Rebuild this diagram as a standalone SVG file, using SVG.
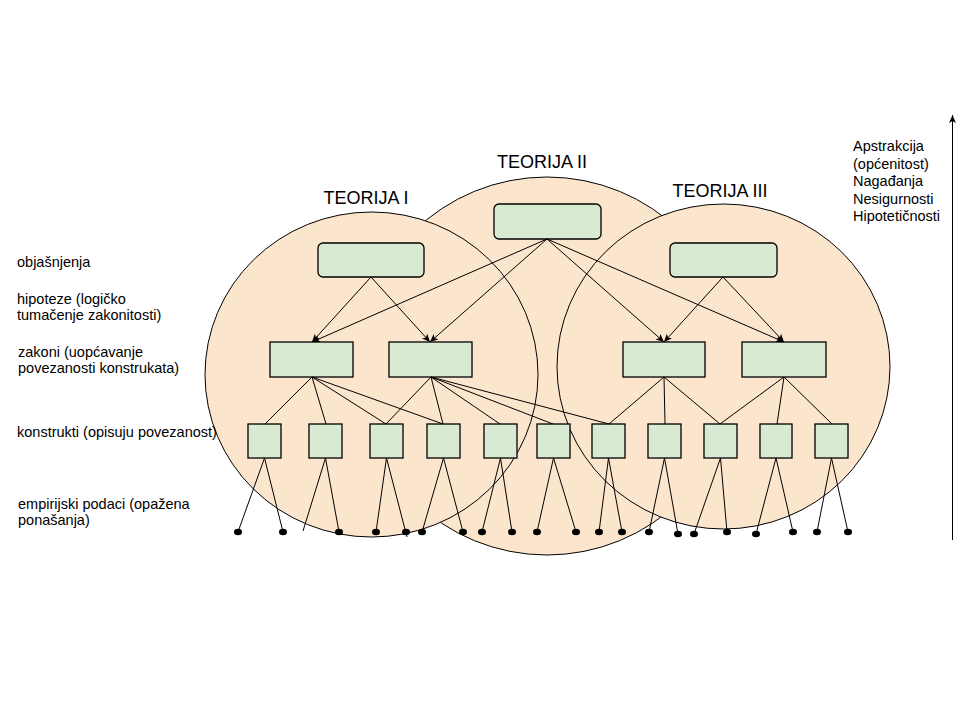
<svg xmlns="http://www.w3.org/2000/svg" width="960" height="720" viewBox="0 0 960 720">
<style>
.th{fill:#FCE5CD;stroke:#000;stroke-width:1}
.bx{fill:#D9EAD3;stroke:#000;stroke-width:1.3}
.ln{stroke:#000;stroke-width:1;fill:none}
.ar{stroke:#000;stroke-width:1;fill:none;marker-end:url(#ah)}
.dot{fill:#000}
text{font-family:"Liberation Sans",Arial,sans-serif;fill:#000}
.lbl{font-size:14.5px}
.ttl{font-size:18px;text-anchor:middle}
</style>
<defs>
<marker id="ah" markerUnits="userSpaceOnUse" markerWidth="10" markerHeight="8" refX="8" refY="4" orient="auto">
<path d="M0,0.5 L8,4 L0,7.5 L2,4 z" fill="#000"/>
</marker>
</defs>
<rect width="960" height="720" fill="#fff"/>
<g id="teorija-2"><ellipse class="th" cx="547" cy="366" rx="190" ry="189"/><text class="ttl" x="542" y="168">TEORIJA II</text></g>
<g id="teorija-1"><ellipse class="th" cx="371.5" cy="374.5" rx="166.5" ry="162.5"/><text class="ttl" x="366" y="204">TEORIJA I</text></g>
<g id="teorija-3"><ellipse class="th" cx="723.5" cy="366.5" rx="166.5" ry="162.5"/><text class="ttl" x="720" y="197">TEORIJA III</text></g>
<g id="labels-left" class="lbl">
<text class="lbl" x="17" y="267">objašnjenja</text>
<text class="lbl" x="17" y="304">hipoteze (logičko</text>
<text class="lbl" x="17" y="320">tumačenje zakonitosti)</text>
<text class="lbl" x="18" y="357">zakoni (uopćavanje</text>
<text class="lbl" x="18" y="373">povezanosti konstrukata)</text>
<text class="lbl" x="17" y="437">konstrukti (opisuju povezanost)</text>
<text class="lbl" x="18" y="509">empirijski podaci (opažena</text>
<text class="lbl" x="18" y="525">ponašanja)</text>
</g>
<g id="labels-right">
<text class="lbl" x="853" y="151">Apstrakcija</text>
<text class="lbl" x="853" y="168.5">(općenitost)</text>
<text class="lbl" x="853" y="186">Nagađanja</text>
<text class="lbl" x="853" y="203.5">Nesigurnosti</text>
<text class="lbl" x="853" y="221">Hipotetičnosti</text>
</g>
<g id="nodes">
<rect id="h2" class="bx" x="494" y="204" width="107" height="35" rx="5"/>
<rect id="h1" class="bx" x="318" y="243" width="106" height="34" rx="5"/>
<rect id="h3" class="bx" x="670" y="243" width="107" height="34" rx="5"/>
<rect id="zA" class="bx" x="270" y="342" width="83" height="35"/>
<rect id="zB" class="bx" x="389" y="342" width="83" height="35"/>
<rect id="zC" class="bx" x="623" y="342" width="82" height="35"/>
<rect id="zD" class="bx" x="742" y="342" width="84" height="35"/>
<rect id="k1" class="bx" x="248" y="424" width="33" height="34"/>
<rect id="k2" class="bx" x="309" y="424" width="33" height="34"/>
<rect id="k3" class="bx" x="370" y="424" width="33" height="34"/>
<rect id="k4" class="bx" x="427" y="424" width="33" height="34"/>
<rect id="k5" class="bx" x="484" y="424" width="33" height="34"/>
<rect id="k6" class="bx" x="537" y="424" width="33" height="34"/>
<rect id="k7" class="bx" x="592" y="424" width="33" height="34"/>
<rect id="k8" class="bx" x="648" y="424" width="33" height="34"/>
<rect id="k9" class="bx" x="704" y="424" width="33" height="34"/>
<rect id="k10" class="bx" x="760" y="424" width="32" height="34"/>
<rect id="k11" class="bx" x="815" y="424" width="33" height="34"/>
</g>
<g id="connectors">
<line class="ar" x1="371" y1="277" x2="312" y2="342"/>
<line class="ar" x1="371" y1="277" x2="430" y2="342"/>
<line class="ar" x1="547" y1="239" x2="312" y2="342"/>
<line class="ar" x1="547" y1="239" x2="430" y2="342"/>
<line class="ar" x1="547" y1="239" x2="664" y2="342"/>
<line class="ar" x1="547" y1="239" x2="784" y2="342"/>
<line class="ar" x1="723" y1="277" x2="664" y2="342"/>
<line class="ar" x1="723" y1="277" x2="784" y2="342"/>
<line class="ln" x1="312" y1="377" x2="265" y2="424"/>
<line class="ln" x1="312" y1="377" x2="326" y2="424"/>
<line class="ln" x1="312" y1="377" x2="386" y2="424"/>
<line class="ln" x1="312" y1="377" x2="443" y2="424"/>
<line class="ln" x1="431" y1="377" x2="386" y2="424"/>
<line class="ln" x1="431" y1="377" x2="443" y2="424"/>
<line class="ln" x1="431" y1="377" x2="500" y2="424"/>
<line class="ln" x1="431" y1="377" x2="553" y2="424"/>
<line class="ln" x1="431" y1="377" x2="609" y2="424"/>
<line class="ln" x1="664" y1="377" x2="609" y2="424"/>
<line class="ln" x1="664" y1="377" x2="665" y2="424"/>
<line class="ln" x1="664" y1="377" x2="720" y2="424"/>
<line class="ln" x1="784" y1="377" x2="720" y2="424"/>
<line class="ln" x1="784" y1="377" x2="777" y2="424"/>
<line class="ln" x1="784" y1="377" x2="832" y2="424"/>
<line class="ln" x1="264.5" y1="458" x2="238" y2="532"/>
<line class="ln" x1="264.5" y1="458" x2="283" y2="532"/>
<line class="ln" x1="325.5" y1="458" x2="303" y2="531"/>
<line class="ln" x1="325.5" y1="458" x2="339" y2="532"/>
<line class="ln" x1="386.5" y1="458" x2="376" y2="532"/>
<line class="ln" x1="386.5" y1="458" x2="407" y2="537"/>
<line class="ln" x1="443.5" y1="458" x2="422" y2="532"/>
<line class="ln" x1="443.5" y1="458" x2="463" y2="532"/>
<line class="ln" x1="500.5" y1="458" x2="482" y2="532"/>
<line class="ln" x1="500.5" y1="458" x2="512" y2="532"/>
<line class="ln" x1="553.5" y1="458" x2="537" y2="532"/>
<line class="ln" x1="553.5" y1="458" x2="576" y2="532"/>
<line class="ln" x1="608.5" y1="458" x2="599" y2="532"/>
<line class="ln" x1="608.5" y1="458" x2="622" y2="532"/>
<line class="ln" x1="664.5" y1="458" x2="649" y2="532"/>
<line class="ln" x1="664.5" y1="458" x2="678" y2="534"/>
<line class="ln" x1="720.5" y1="458" x2="694" y2="534"/>
<line class="ln" x1="720.5" y1="458" x2="727" y2="532"/>
<line class="ln" x1="776" y1="458" x2="756" y2="534"/>
<line class="ln" x1="776" y1="458" x2="793" y2="532"/>
<line class="ln" x1="831.5" y1="458" x2="817" y2="532"/>
<line class="ln" x1="831.5" y1="458" x2="848" y2="532"/>
<line class="ar" x1="952.5" y1="540" x2="952.5" y2="115"/>
</g>
<g id="data-points">
<ellipse class="dot" cx="238" cy="532" rx="4" ry="3.3"/>
<ellipse class="dot" cx="283" cy="532" rx="4" ry="3.3"/>
<ellipse class="dot" cx="339" cy="532" rx="4" ry="3.3"/>
<ellipse class="dot" cx="376" cy="532" rx="4" ry="3.3"/>
<ellipse class="dot" cx="406" cy="532" rx="4" ry="3.3"/>
<ellipse class="dot" cx="422" cy="532" rx="4" ry="3.3"/>
<ellipse class="dot" cx="463" cy="532" rx="4" ry="3.3"/>
<ellipse class="dot" cx="482" cy="532" rx="4" ry="3.3"/>
<ellipse class="dot" cx="512" cy="532" rx="4" ry="3.3"/>
<ellipse class="dot" cx="537" cy="532" rx="4" ry="3.3"/>
<ellipse class="dot" cx="576" cy="532" rx="4" ry="3.3"/>
<ellipse class="dot" cx="599" cy="532" rx="4" ry="3.3"/>
<ellipse class="dot" cx="622" cy="532" rx="4" ry="3.3"/>
<ellipse class="dot" cx="649" cy="532" rx="4" ry="3.3"/>
<ellipse class="dot" cx="678" cy="534" rx="4" ry="3.3"/>
<ellipse class="dot" cx="694" cy="534" rx="4" ry="3.3"/>
<ellipse class="dot" cx="727" cy="532" rx="4" ry="3.3"/>
<ellipse class="dot" cx="756" cy="534" rx="4" ry="3.3"/>
<ellipse class="dot" cx="793" cy="532" rx="4" ry="3.3"/>
<ellipse class="dot" cx="817" cy="532" rx="4" ry="3.3"/>
<ellipse class="dot" cx="848" cy="532" rx="4" ry="3.3"/>
</g>
</svg>
